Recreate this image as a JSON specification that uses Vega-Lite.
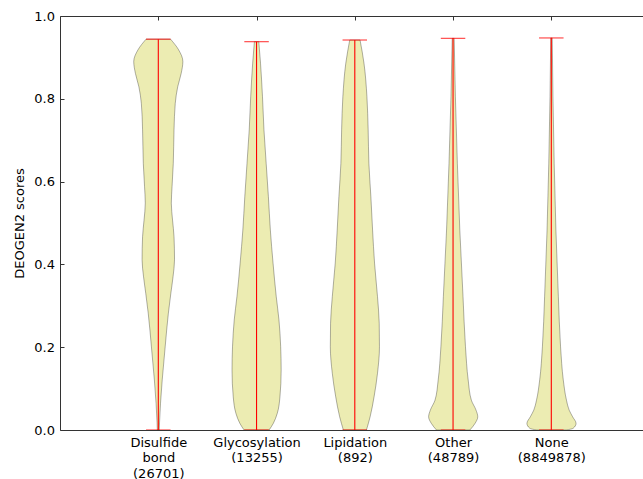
{
  "$schema": "https://vega.github.io/schema/vega-lite/v6.json",
  "width": 583,
  "height": 414,
  "autosize": {"type": "none"},
  "padding": {"left": 60, "top": 16, "right": 0, "bottom": 49},
  "config": {
    "view": {"stroke": null},
    "font": "DejaVu Sans",
    "axis": {
      "labelFont": "DejaVu Sans",
      "labelFontSize": 13,
      "titleFont": "DejaVu Sans",
      "titleFontSize": 13,
      "titleFontWeight": "normal",
      "labelColor": "#000",
      "titleColor": "#000",
      "domainColor": "#333",
      "tickColor": "#333",
      "grid": false
    }
  },
  "datasets": {
    "violins": [
      {"c": "Disulfide bond (26701)", "s": 0.0, "w": 0.04},
      {"c": "Disulfide bond (26701)", "s": 0.017, "w": 0.05},
      {"c": "Disulfide bond (26701)", "s": 0.064, "w": 0.09},
      {"c": "Disulfide bond (26701)", "s": 0.121, "w": 0.16},
      {"c": "Disulfide bond (26701)", "s": 0.201, "w": 0.28},
      {"c": "Disulfide bond (26701)", "s": 0.282, "w": 0.41},
      {"c": "Disulfide bond (26701)", "s": 0.33, "w": 0.51},
      {"c": "Disulfide bond (26701)", "s": 0.37, "w": 0.6},
      {"c": "Disulfide bond (26701)", "s": 0.411, "w": 0.66},
      {"c": "Disulfide bond (26701)", "s": 0.467, "w": 0.64},
      {"c": "Disulfide bond (26701)", "s": 0.507, "w": 0.58},
      {"c": "Disulfide bond (26701)", "s": 0.548, "w": 0.53},
      {"c": "Disulfide bond (26701)", "s": 0.588, "w": 0.56},
      {"c": "Disulfide bond (26701)", "s": 0.644, "w": 0.61},
      {"c": "Disulfide bond (26701)", "s": 0.725, "w": 0.64},
      {"c": "Disulfide bond (26701)", "s": 0.789, "w": 0.69},
      {"c": "Disulfide bond (26701)", "s": 0.829, "w": 0.79},
      {"c": "Disulfide bond (26701)", "s": 0.861, "w": 0.93},
      {"c": "Disulfide bond (26701)", "s": 0.89, "w": 1.0},
      {"c": "Disulfide bond (26701)", "s": 0.918, "w": 0.83},
      {"c": "Disulfide bond (26701)", "s": 0.944, "w": 0.5},
      {"c": "Glycosylation (13255)", "s": 0.0, "w": 0.51},
      {"c": "Glycosylation (13255)", "s": 0.016, "w": 0.68},
      {"c": "Glycosylation (13255)", "s": 0.04, "w": 0.84},
      {"c": "Glycosylation (13255)", "s": 0.08, "w": 0.95},
      {"c": "Glycosylation (13255)", "s": 0.145, "w": 1.0},
      {"c": "Glycosylation (13255)", "s": 0.201, "w": 0.98},
      {"c": "Glycosylation (13255)", "s": 0.266, "w": 0.91},
      {"c": "Glycosylation (13255)", "s": 0.322, "w": 0.8},
      {"c": "Glycosylation (13255)", "s": 0.403, "w": 0.67},
      {"c": "Glycosylation (13255)", "s": 0.483, "w": 0.56},
      {"c": "Glycosylation (13255)", "s": 0.564, "w": 0.48},
      {"c": "Glycosylation (13255)", "s": 0.644, "w": 0.39},
      {"c": "Glycosylation (13255)", "s": 0.725, "w": 0.3},
      {"c": "Glycosylation (13255)", "s": 0.805, "w": 0.24},
      {"c": "Glycosylation (13255)", "s": 0.886, "w": 0.16},
      {"c": "Glycosylation (13255)", "s": 0.938, "w": 0.09},
      {"c": "Lipidation (892)", "s": 0.0, "w": 0.47},
      {"c": "Lipidation (892)", "s": 0.032, "w": 0.62},
      {"c": "Lipidation (892)", "s": 0.08, "w": 0.78},
      {"c": "Lipidation (892)", "s": 0.137, "w": 0.92},
      {"c": "Lipidation (892)", "s": 0.201, "w": 1.0},
      {"c": "Lipidation (892)", "s": 0.258, "w": 0.99},
      {"c": "Lipidation (892)", "s": 0.322, "w": 0.92},
      {"c": "Lipidation (892)", "s": 0.403, "w": 0.8},
      {"c": "Lipidation (892)", "s": 0.483, "w": 0.72},
      {"c": "Lipidation (892)", "s": 0.564, "w": 0.65},
      {"c": "Lipidation (892)", "s": 0.644, "w": 0.57},
      {"c": "Lipidation (892)", "s": 0.725, "w": 0.54},
      {"c": "Lipidation (892)", "s": 0.805, "w": 0.49},
      {"c": "Lipidation (892)", "s": 0.886, "w": 0.37},
      {"c": "Lipidation (892)", "s": 0.942, "w": 0.21},
      {"c": "Other (48789)", "s": 0.0, "w": 0.68},
      {"c": "Other (48789)", "s": 0.016, "w": 0.89},
      {"c": "Other (48789)", "s": 0.032, "w": 1.0},
      {"c": "Other (48789)", "s": 0.048, "w": 0.93},
      {"c": "Other (48789)", "s": 0.072, "w": 0.74},
      {"c": "Other (48789)", "s": 0.121, "w": 0.61},
      {"c": "Other (48789)", "s": 0.201, "w": 0.5},
      {"c": "Other (48789)", "s": 0.322, "w": 0.4},
      {"c": "Other (48789)", "s": 0.483, "w": 0.27},
      {"c": "Other (48789)", "s": 0.644, "w": 0.17},
      {"c": "Other (48789)", "s": 0.805, "w": 0.09},
      {"c": "Other (48789)", "s": 0.946, "w": 0.04},
      {"c": "None (8849878)", "s": 0.0, "w": 0.6},
      {"c": "None (8849878)", "s": 0.004, "w": 0.88},
      {"c": "None (8849878)", "s": 0.016, "w": 1.0},
      {"c": "None (8849878)", "s": 0.032, "w": 0.86},
      {"c": "None (8849878)", "s": 0.048, "w": 0.72},
      {"c": "None (8849878)", "s": 0.072, "w": 0.61},
      {"c": "None (8849878)", "s": 0.121, "w": 0.48},
      {"c": "None (8849878)", "s": 0.201, "w": 0.37},
      {"c": "None (8849878)", "s": 0.322, "w": 0.28},
      {"c": "None (8849878)", "s": 0.483, "w": 0.18},
      {"c": "None (8849878)", "s": 0.644, "w": 0.11},
      {"c": "None (8849878)", "s": 0.805, "w": 0.06},
      {"c": "None (8849878)", "s": 0.947, "w": 0.03}
    ],
    "stats": [
      {"c": "Disulfide bond (26701)", "min": 0, "max": 0.944},
      {"c": "Glycosylation (13255)", "min": 0, "max": 0.938},
      {"c": "Lipidation (892)", "min": 0, "max": 0.942},
      {"c": "Other (48789)", "min": 0, "max": 0.946},
      {"c": "None (8849878)", "min": 0, "max": 0.947}
    ]
  },
  "layer": [
    {
      "data": {"name": "violins"},
      "transform": [{"filter": "datum.c === 'Disulfide bond (26701)'"}],
      "mark": {"type": "area", "orient": "horizontal", "interpolate": "monotone", "fill": "#bfbf00", "fillOpacity": 0.3, "stroke": "#000", "strokeOpacity": 0.3, "strokeWidth": 1},
      "encoding": {
        "y": {"field": "s", "type": "quantitative", "scale": {"domain": [0, 1]},
          "axis": {"values": [0, 0.2, 0.4, 0.6, 0.8, 1], "format": ".1f", "tickSize": -4, "labelPadding": 9.5, "labelFlush": false, "labelOverlap": false, "title": "DEOGEN2 scores", "titlePadding": 7, "zindex": 1}},
        "x": {"field": "w", "type": "quantitative", "stack": "center", "scale": {"domain": [-1.5, 10.362]},
          "axis": {"orient": "top", "values": [0.5, 2.5, 4.5, 6.5, 8.5], "labels": false, "tickSize": -4, "title": null, "zindex": 1}}
      }
    },
    {
      "data": {"name": "violins"},
      "transform": [{"filter": "datum.c === 'Glycosylation (13255)'"}],
      "mark": {"type": "area", "orient": "horizontal", "interpolate": "monotone", "fill": "#bfbf00", "fillOpacity": 0.3, "stroke": "#000", "strokeOpacity": 0.3, "strokeWidth": 1},
      "encoding": {
        "y": {"field": "s", "type": "quantitative", "scale": {"domain": [0, 1]}, "title": "DEOGEN2 scores"},
        "x": {"field": "w", "type": "quantitative", "stack": "center", "scale": {"domain": [-3.5, 8.362]},
          "axis": {"orient": "bottom", "ticks": false, "labels": false, "title": null, "zindex": 1}}
      }
    },
    {
      "data": {"name": "violins"},
      "transform": [{"filter": "datum.c === 'Lipidation (892)'"}],
      "mark": {"type": "area", "orient": "horizontal", "interpolate": "monotone", "fill": "#bfbf00", "fillOpacity": 0.3, "stroke": "#000", "strokeOpacity": 0.3, "strokeWidth": 1},
      "encoding": {
        "y": {"field": "s", "type": "quantitative", "scale": {"domain": [0, 1]}, "title": "DEOGEN2 scores"},
        "x": {"field": "w", "type": "quantitative", "stack": "center", "scale": {"domain": [-5.5, 6.362]}, "axis": null}
      }
    },
    {
      "data": {"name": "violins"},
      "transform": [{"filter": "datum.c === 'Other (48789)'"}],
      "mark": {"type": "area", "orient": "horizontal", "interpolate": "monotone", "fill": "#bfbf00", "fillOpacity": 0.3, "stroke": "#000", "strokeOpacity": 0.3, "strokeWidth": 1},
      "encoding": {
        "y": {"field": "s", "type": "quantitative", "scale": {"domain": [0, 1]}, "title": "DEOGEN2 scores"},
        "x": {"field": "w", "type": "quantitative", "stack": "center", "scale": {"domain": [-7.5, 4.362]}, "axis": null}
      }
    },
    {
      "data": {"name": "violins"},
      "transform": [{"filter": "datum.c === 'None (8849878)'"}],
      "mark": {"type": "area", "orient": "horizontal", "interpolate": "monotone", "fill": "#bfbf00", "fillOpacity": 0.3, "stroke": "#000", "strokeOpacity": 0.3, "strokeWidth": 1},
      "encoding": {
        "y": {"field": "s", "type": "quantitative", "scale": {"domain": [0, 1]}, "title": "DEOGEN2 scores"},
        "x": {"field": "w", "type": "quantitative", "stack": "center", "scale": {"domain": [-9.5, 2.362]}, "axis": null}
      }
    },
    {
      "data": {"name": "stats"},
      "encoding": {
        "x": {"field": "c", "type": "nominal",
          "scale": {"type": "point", "domain": ["Disulfide bond (26701)", "Glycosylation (13255)", "Lipidation (892)", "Other (48789)", "None (8849878)"], "range": [98.3, 491.3], "padding": 0},
          "axis": {"orient": "bottom", "domain": false, "ticks": false, "labelAngle": 0, "labelAlign": "center", "labelBaseline": "top", "labelPadding": 6, "labelExpr": "split(datum.label, ' ')", "labelLineHeight": 15.5, "title": null}}
      },
      "layer": [
        {
          "mark": {"type": "rule", "color": "#ff0000", "strokeWidth": 1.1},
          "encoding": {
            "y": {"field": "min", "type": "quantitative", "scale": {"domain": [0, 1]}, "title": "DEOGEN2 scores"},
            "y2": {"field": "max"}
          }
        },
        {
          "mark": {"type": "tick", "color": "#ff0000", "orient": "horizontal", "thickness": 1.2, "size": 24.5},
          "encoding": {
            "y": {"field": "max", "type": "quantitative", "scale": {"domain": [0, 1]}, "title": "DEOGEN2 scores"}
          }
        },
        {
          "mark": {"type": "tick", "color": "#ff0000", "orient": "horizontal", "thickness": 1.2, "size": 24.5},
          "encoding": {
            "y": {"field": "min", "type": "quantitative", "scale": {"domain": [0, 1]}, "title": "DEOGEN2 scores"}
          }
        }
      ]
    }
  ],
  "resolve": {"scale": {"x": "independent"}, "axis": {"x": "independent"}}
}
